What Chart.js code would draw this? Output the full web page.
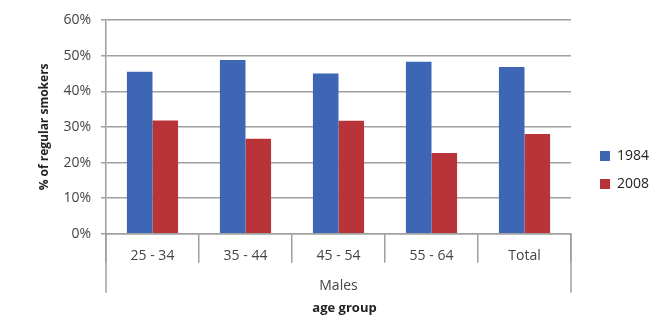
<!DOCTYPE html>
<html lang="en">
<head>
  <meta charset="UTF-8" />
  <title>Regular smokers by age group</title>
  <script src="https://cdn.jsdelivr.net/npm/chart.js"></script>
  <style>
    html, body { margin: 0; padding: 0; background: #fff; }
    #wrap { width: 656px; height: 322px; }
  </style>
</head>
<body>
  <div id="wrap"><canvas id="chart"></canvas></div>

  <script>
    const categories = ["25 - 34", "35 - 44", "45 - 54", "55 - 64", "Total"];
    const values1984 = [45.5, 48.8, 45.0, 48.3, 46.8];
    const values2008 = [31.8, 26.7, 31.7, 22.7, 28.0];
    const yTicks = [0, 10, 20, 30, 40, 50, 60];

    const axisGray = "#a0a0a0";
    const font = "'Open Sans', 'DejaVu Sans', sans-serif";

    // outer lines of the group box under the axis (left & right) go lower than the inner separators
    const groupBox = {
      id: "groupBox",
      afterDraw(chart) {
        const { ctx, chartArea } = chart;
        const x = chart.scales.x;
        ctx.save();
        ctx.strokeStyle = axisGray;
        ctx.lineWidth = 1.5;
        [chartArea.left, chartArea.right].forEach(px => {
          ctx.beginPath();
          ctx.moveTo(px, x.top);
          ctx.lineTo(px, x.top + 59);
          ctx.stroke();
        });
        ctx.restore();
      }
    };

    new Chart(document.getElementById("chart"), {
      type: "bar",
      data: {
        labels: categories,
        datasets: [
          { label: "1984", data: values1984, backgroundColor: "#3d67b5" },
          { label: "2008", data: values2008, backgroundColor: "#b93438" }
        ]
      },
      options: {
        responsive: true,
        maintainAspectRatio: false,
        animation: false,
        datasets: { bar: { categoryPercentage: 0.55, barPercentage: 1.0 } },
        layout: { padding: { left: 33, right: 0, top: 20, bottom: 2 } },
        plugins: {
          legend: {
            position: "right",
            maxWidth: 70,
            labels: {
              boxWidth: 10, boxHeight: 10, padding: 14,
              color: "#222", font: { family: font, size: 14 }
            }
          },
          title: {
            display: true,
            position: "bottom",
            text: "age group",
            color: "#222",
            font: { family: font, size: 13, weight: "bold" },
            padding: { top: 2, bottom: 4 }
          },
          tooltip: { enabled: false }
        },
        scales: {
          x: {
            grid: {
              offset: true, drawOnChartArea: false, drawTicks: true,
              tickLength: 29, color: axisGray, lineWidth: 1.5
            },
            border: { color: axisGray, width: 1.5 },
            ticks: { padding: -15, color: "#444", font: { family: font, size: 14 } },
            title: {
              display: true, text: "Males", color: "#444",
              font: { family: font, size: 14 }, padding: { top: 28, bottom: 4 }
            }
          },
          y: {
            min: 0, max: 60,
            afterBuildTicks: axis => { axis.ticks = yTicks.map(v => ({ value: v })); },
            grid: { color: axisGray, tickLength: 5, lineWidth: 1.5 },
            border: { color: axisGray, width: 1.5 },
            ticks: {
              color: "#444", padding: 10,
              font: { family: font, size: 14 },
              callback: v => v + "%"
            },
            title: {
              display: true, text: "% of regular smokers", color: "#222",
              font: { family: font, size: 12, weight: "bold" }, padding: { top: 4, bottom: 2 }
            }
          },
          // empty spacer between the plot and the legend
          gap: {
            type: "linear", position: "right",
            grid: { display: false }, border: { display: false }, ticks: { display: false },
            afterFit: axis => { axis.width = 15; }
          }
        }
      },
      plugins: [groupBox]
    });
  </script>
</body>
</html>
